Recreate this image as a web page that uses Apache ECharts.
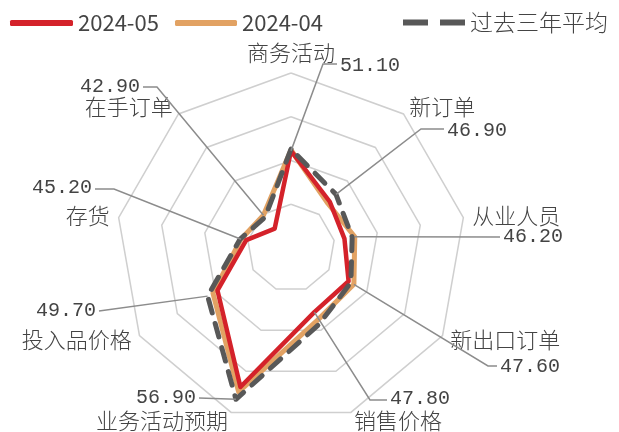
<!DOCTYPE html>
<html>
<head>
<meta charset="utf-8">
<script src="https://cdn.jsdelivr.net/npm/echarts@6/dist/echarts.min.js"></script>
<style>
html,body{margin:0;padding:0;background:#fff;}
#chart{width:619px;height:432px;}
</style>
</head>
<body>
<div id="chart"></div>
<script>
// ---- data ----
const indicators = ['商务活动','新订单','从业人员','新出口订单','销售价格','业务活动预期','投入品价格','存货','在手订单'];
const seriesNames = ['2024-05','2024-04','过去三年平均'];
const may2024 = [51.1, 46.9, 46.2, 47.6, 47.8, 56.9, 49.7, 45.2, 42.9];
const apr2024 = [51.2, 46.6, 47.4, 48.3, 48.8, 57.5, 50.3, 45.8, 44.9];
const avg3y   = [51.3, 48.0, 47.1, 47.9, 49.3, 58.4, 51.0, 45.9, 44.6];
const axisMin = 40, axisMax = 60;

// ---- layout (positions/styles only) ----
// radar draws counter-clockwise; this order makes indicators run clockwise from the top
const order = [0, 8, 7, 6, 5, 4, 3, 2, 1];
// which series each leader line points at
const leaderSeries = [0, 2, 1, 1, 0, 2, 2, 1, 1];
const labelLayout = [
  {x:340, y:66,  align:'left',  elbow:[323,64]},
  {x:447, y:131, align:'left',  elbow:[421,129]},
  {x:503, y:237, align:'left',  elbow:null},
  {x:500, y:367, align:'left',  elbow:[488,366]},
  {x:390, y:399, align:'left',  elbow:[370,400]},
  {x:196, y:398, align:'right', elbow:null},
  {x:96,  y:311, align:'right', elbow:null},
  {x:92,  y:188, align:'right', elbow:[114,189]},
  {x:140, y:87,  align:'right', elbow:[157,87]}
];
const colors = ['#d4222a', '#e2a263', '#585858'];
const CJK = "'Noto Sans CJK SC', 'Noto Sans', sans-serif";

const reorder = arr => order.map(i => arr[i]);

const chart = echarts.init(document.getElementById('chart'), null, {renderer:'canvas'});
const legendText = {fontSize:22, color:'#444', fontFamily:"'Liberation Sans Narrow', 'Noto Sans CJK SC', sans-serif"};
const option = {
  animation:false,
  backgroundColor:'#fff',
  legend:[
    {data:[seriesNames[0]], left:5, top:7, itemWidth:63, itemHeight:6, icon:'roundRect', textStyle:legendText},
    {data:[seriesNames[1]], left:170, top:7, itemWidth:62, itemHeight:6, icon:'roundRect', textStyle:legendText},
    {data:[seriesNames[2]], left:398, top:6, itemWidth:62, itemHeight:6, icon:'path://M0,0h25v6h-25zM37,0h25v6h-25z',
     textStyle:{fontSize:23, color:'#444', fontWeight:300, fontFamily:CJK}}
  ],
  radar:{
    center:[291,248],
    radius:175,
    shape:'polygon',
    splitNumber:4,
    startAngle:90,
    indicator: reorder(indicators).map(n => ({name:n, min:axisMin, max:axisMax})),
    axisName:{color:'#444', fontSize:22, fontWeight:300, fontFamily:CJK},
    nameGap:9,
    splitLine:{lineStyle:{color:'#cfcfcf', width:1.5}},
    splitArea:{show:false},
    axisLine:{show:false},
    axisTick:{show:false},
    axisLabel:{show:false}
  },
  series:[
    {type:'radar', z:3, symbol:'none', data:[{name:seriesNames[1], value:reorder(apr2024)}],
     lineStyle:{color:colors[1], width:5}, itemStyle:{color:colors[1]}},
    {type:'radar', z:4, symbol:'none', data:[{name:seriesNames[0], value:reorder(may2024)}],
     lineStyle:{color:colors[0], width:4.5}, itemStyle:{color:colors[0]}},
    {type:'radar', z:5, symbol:'none', data:[{name:seriesNames[2], value:reorder(avg3y)}],
     lineStyle:{color:colors[2], width:5, type:[14,11], cap:'round'}, itemStyle:{color:colors[2]}}
  ]
};
chart.setOption(option);

// leader lines + value labels through the radar coordinate system
const allSeries = [may2024, apr2024, avg3y];
let radarCS = null;
try { radarCS = chart.getModel().getComponent('radar', 0).coordinateSystem; } catch(e) {}
const graphics = [];
indicators.forEach((name, i) => {
  const v = allSeries[leaderSeries[i]][i];
  const pos = order.indexOf(i);
  let p;
  if (radarCS && radarCS.dataToPoint) {
    p = radarCS.dataToPoint(v, pos);
  } else {
    const ang = Math.PI/2 - i * 2*Math.PI/indicators.length;
    const r = (v - axisMin)/(axisMax-axisMin) * option.radar.radius;
    p = [option.radar.center[0] + r*Math.cos(ang), option.radar.center[1] - r*Math.sin(ang)];
  }
  const L = labelLayout[i];
  const endX = L.align === 'left' ? L.x - 3 : L.x + 3;
  const pts = [p];
  if (L.elbow) pts.push(L.elbow);
  pts.push([endX, L.elbow ? L.elbow[1] : L.y]);
  graphics.push({type:'polyline', z:10, shape:{points:pts}, style:{stroke:'#8c8c8c', lineWidth:1.5, fill:null}});
  graphics.push({type:'text', z:10, x:L.x, y:L.y, style:{text:may2024[i].toFixed(2), align:L.align, verticalAlign:'middle',
    fontSize:20, fill:'#444', fontFamily:"'Liberation Mono', 'DejaVu Sans Mono', monospace"}});
});
chart.setOption({graphic:graphics});
</script>
</body>
</html>
